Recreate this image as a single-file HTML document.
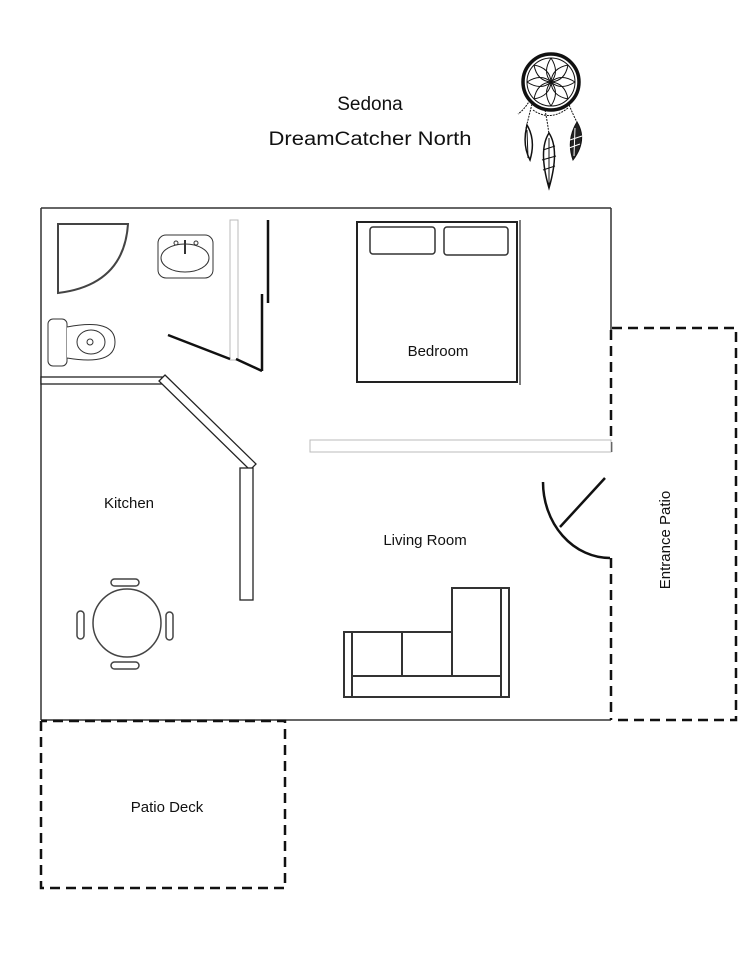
<!DOCTYPE html>
<html><head><meta charset="utf-8"><style>
html,body{margin:0;padding:0;background:#fff;}
svg{display:block;}
text{font-family:"Liberation Sans","DejaVu Sans",sans-serif;fill:#111;}
</style></head><body>
<svg width="743" height="960" viewBox="0 0 743 960" xmlns="http://www.w3.org/2000/svg">
<rect width="743" height="960" fill="#fff"/>
<text x="370" y="110" font-size="19" text-anchor="middle">Sedona</text>
<text x="370" y="145" font-size="19" text-anchor="middle" textLength="203" lengthAdjust="spacingAndGlyphs">DreamCatcher North</text>
<g stroke="#111" fill="none">
<circle cx="551" cy="82" r="28" stroke-width="3.5"/>
<circle cx="551" cy="82" r="24" stroke-width="1"/>
<g stroke-width="1">
<path d="M551 58 Q560 72 551 82 Q542 72 551 58"/>
<path d="M575 82 Q561 91 551 82 Q561 73 575 82"/>
<path d="M551 106 Q542 92 551 82 Q560 92 551 106"/>
<path d="M527 82 Q541 73 551 82 Q541 91 527 82"/>
<path d="M534 65 Q550 68 551 82 Q537 81 534 65"/>
<path d="M568 65 Q565 81 551 82 Q552 68 568 65"/>
<path d="M568 99 Q552 96 551 82 Q565 83 568 99"/>
<path d="M534 99 Q537 83 551 82 Q550 96 534 99"/>
</g>
<path d="M530 100 Q524 110 518 114" stroke-width="1" stroke-dasharray="2 1"/>
<path d="M532 104 Q528 120 526 128" stroke-width="1" stroke-dasharray="2 1"/>
<path d="M545 110 Q548 125 549 135" stroke-width="1" stroke-dasharray="2 1"/>
<path d="M568 102 Q573 115 578 124" stroke-width="1" stroke-dasharray="2 1"/>
<path d="M533 110 Q550 122 568 108" stroke-width="1" stroke-dasharray="2 1"/>
</g>
<path d="M527 125 Q536 140 530 160 Q522 145 527 125Z" fill="#fff" stroke="#111" stroke-width="1.5"/>
<path d="M527 130 L528 158" stroke="#111"/>
<path d="M549 133 Q560 150 549 188 Q538 150 549 133Z" fill="#fff" stroke="#111" stroke-width="1.5"/>
<path d="M549 138 L549 185 M543 150 L555 146 M542 160 L556 156 M543 170 L555 166" stroke="#111"/>
<path d="M577 122 Q588 140 573 160 Q566 140 577 122Z" fill="#222" stroke="#111"/>
<path d="M575 128 L574 156 M570 140 L582 136 M569 148 L580 144" stroke="#fff"/>

<g stroke="#333" stroke-width="1.5" fill="none">
<line x1="41" y1="208" x2="611" y2="208"/>
<line x1="41" y1="208" x2="41" y2="720"/>
<line x1="41" y1="720" x2="611" y2="720"/>
<line x1="611" y1="208" x2="611" y2="330"/>
</g>
<g stroke="#111" stroke-width="2.5" fill="none" stroke-dasharray="10 6">
<line x1="611" y1="330" x2="611" y2="452"/>
<line x1="611" y1="558" x2="611" y2="720"/>
<polyline points="612,328 736,328 736,720 612,720"/>
<polyline points="41,721 41,888 285,888 285,721 41,721"/>
</g>
<rect x="41" y="377" width="121" height="7" fill="#fff" stroke="#222" stroke-width="1.3"/>
<polygon points="165,375 256,464 250,470 159,381" fill="#fff" stroke="#222" stroke-width="1.3"/>
<rect x="240" y="468" width="13" height="132" fill="#fff" stroke="#222" stroke-width="1.3"/>
<path d="M58 224 L128 224 Q124 285 58 293 Z" fill="#fff" stroke="#444" stroke-width="2"/>
<rect x="158" y="235" width="55" height="43" rx="8" fill="#fff" stroke="#333" stroke-width="1"/>
<ellipse cx="185" cy="258" rx="24" ry="14" fill="none" stroke="#333"/>
<line x1="185" y1="240" x2="185" y2="254" stroke="#333" stroke-width="2"/>
<circle cx="176" cy="243" r="2" fill="none" stroke="#333"/>
<circle cx="196" cy="243" r="2" fill="none" stroke="#333"/>
<rect x="48" y="319" width="19" height="47" rx="5" fill="#fff" stroke="#333"/>
<path d="M67 327 Q115 318 115 342 Q115 366 67 358" fill="#fff" stroke="#333"/>
<ellipse cx="91" cy="342" rx="14" ry="12" fill="none" stroke="#333"/>
<circle cx="90" cy="342" r="3" fill="none" stroke="#333"/>
<rect x="230" y="220" width="8" height="140" fill="#fff" stroke="#bbb"/>
<g stroke="#111" stroke-width="2.5">
<line x1="268" y1="220" x2="268" y2="303"/>
<line x1="262" y1="294" x2="262" y2="371"/>
<line x1="168" y1="335" x2="230" y2="359"/>
<line x1="236" y1="359" x2="262" y2="371"/>
</g>
<rect x="357" y="222" width="160" height="160" fill="none" stroke="#222" stroke-width="2"/>
<rect x="370" y="227" width="65" height="27" rx="3" fill="none" stroke="#333" stroke-width="1.5"/>
<rect x="444" y="227" width="64" height="28" rx="3" fill="none" stroke="#333" stroke-width="1.5"/>
<line x1="520" y1="220" x2="520" y2="385" stroke="#555" stroke-width="1.5"/>
<text x="438" y="356" font-size="15" text-anchor="middle">Bedroom</text>
<rect x="310" y="440" width="301" height="12" fill="#fff" stroke="#bbb"/>
<path d="M543 482 A67 76 0 0 0 610 558" fill="none" stroke="#111" stroke-width="2.5"/>
<line x1="560" y1="527" x2="605" y2="478" stroke="#111" stroke-width="2.5"/>
<g fill="none" stroke="#333" stroke-width="2">
<path d="M344 632 L452 632 L452 588 L509 588 L509 697 L344 697 Z"/>
<line x1="352" y1="632" x2="352" y2="697"/>
<line x1="501" y1="588" x2="501" y2="697"/>
<line x1="352" y1="676" x2="501" y2="676"/>
<line x1="402" y1="632" x2="402" y2="676"/>
<line x1="452" y1="632" x2="452" y2="676"/>
</g>
<text x="425" y="545" font-size="15" text-anchor="middle">Living Room</text>
<text x="129" y="508" font-size="15" text-anchor="middle">Kitchen</text>
<g fill="none" stroke="#444" stroke-width="1.5">
<circle cx="127" cy="623" r="34"/>
<rect x="111" y="579" width="28" height="7" rx="3.5"/>
<rect x="111" y="662" width="28" height="7" rx="3.5"/>
<rect x="77" y="611" width="7" height="28" rx="3.5"/>
<rect x="166" y="612" width="7" height="28" rx="3.5"/>
</g>
<text x="167" y="812" font-size="15" text-anchor="middle">Patio Deck</text>
<text transform="translate(670,540) rotate(-90)" font-size="15" text-anchor="middle">Entrance Patio</text>
</svg>
</body></html>
